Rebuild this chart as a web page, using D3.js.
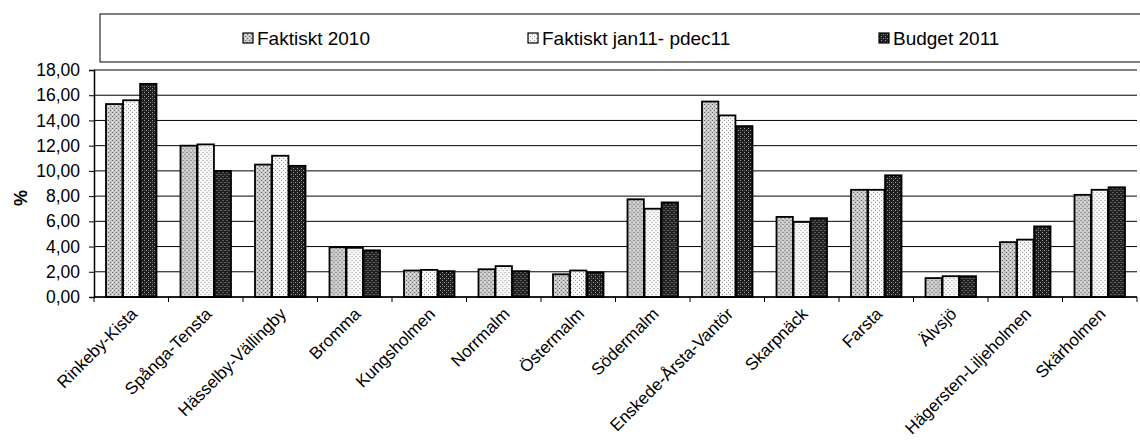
<!DOCTYPE html>
<meta charset="utf-8">
<style>
    body { margin: 0; background: #fff; }
    text { font-family: "Liberation Sans", Arial, sans-serif; fill: #000; }
    .grid line { stroke: #000; stroke-width: 1; }
    .axis path, .axis line { stroke: #000; }
    .bar { stroke: #000; stroke-width: 1.8; }
</style>
<svg width="1140" height="444"></svg>
<script src="https://cdn.jsdelivr.net/npm/d3@7/dist/d3.min.js"></script>
<script>
    var categories = ["Rinkeby-Kista", "Spånga-Tensta", "Hässelby-Vällingby", "Bromma", "Kungsholmen",
        "Norrmalm", "Östermalm", "Södermalm", "Enskede-Årsta-Vantör", "Skarpnäck", "Farsta",
        "Älvsjö", "Hägersten-Liljeholmen", "Skärholmen"];

    var seriesNames = ["Faktiskt 2010", "Faktiskt jan11- pdec11", "Budget 2011"];

    var faktiskt2010 = [15.3, 12.0, 10.5, 3.95, 2.1, 2.2, 1.8, 7.75, 15.5, 6.35, 8.5, 1.5, 4.35, 8.1];
    var faktisktJan11 = [15.6, 12.1, 11.2, 3.9, 2.15, 2.45, 2.1, 7.0, 14.4, 5.95, 8.5, 1.65, 4.55, 8.5];
    var budget2011 = [16.9, 10.0, 10.4, 3.7, 2.05, 2.05, 1.95, 7.5, 13.55, 6.25, 9.65, 1.65, 5.6, 8.7];

    var yTicks = [0, 2, 4, 6, 8, 10, 12, 14, 16, 18];

    var series = [faktiskt2010, faktisktJan11, budget2011];

    var svg = d3.select("svg"),
        margin = { top: 70, right: 3, bottom: 147, left: 94 },
        width = +svg.attr("width") - margin.left - margin.right,
        height = +svg.attr("height") - margin.top - margin.bottom;

    // stippled fills, imitating the printed patterns
    var defs = svg.append("defs");
    var patterns = [
        { id: "p0", bg: "#c8c8c8", dot: "#6a6a6a", dot2: "#f2f2f2" },
        { id: "p1", bg: "#f7f7f7", dot: "#9a9a9a", dot2: "#ffffff" },
        { id: "p2", bg: "#1e1e1e", dot: "#9a9a9a", dot2: "#505050" }
    ];
    patterns.forEach(function (p) {
        var pat = defs.append("pattern")
            .attr("id", p.id)
            .attr("patternUnits", "userSpaceOnUse")
            .attr("width", 4).attr("height", 4);
        pat.append("rect").attr("width", 4).attr("height", 4).attr("fill", p.bg);
        pat.append("rect").attr("x", 0).attr("y", 0).attr("width", 1).attr("height", 1).attr("fill", p.dot);
        pat.append("rect").attr("x", 2).attr("y", 2).attr("width", 1).attr("height", 1).attr("fill", p.dot);
        pat.append("rect").attr("x", 2).attr("y", 0).attr("width", 1).attr("height", 1).attr("fill", p.dot2);
    });

    var x0 = d3.scaleBand().domain(categories).range([0, width]).paddingInner(0).paddingOuter(0);
    var x1 = d3.scaleBand().domain(d3.range(series.length))
        .range([12, x0.bandwidth() - 12]).paddingInner(0.04);
    var y = d3.scaleLinear().domain([0, 18]).range([height, 0]);

    var g = svg.append("g")
        .attr("transform", "translate(" + margin.left + "," + margin.top + ")");

    // gridlines
    g.append("g")
        .attr("class", "grid")
        .selectAll("line")
        .data(yTicks)
        .enter().append("line")
        .attr("x1", 0).attr("x2", width)
        .attr("y1", function (d) { return y(d); })
        .attr("y2", function (d) { return y(d); });

    // bars
    var groups = g.selectAll(".group")
        .data(categories)
        .enter().append("g")
        .attr("class", "group")
        .attr("transform", function (d) { return "translate(" + x0(d) + ",0)"; });

    groups.selectAll("rect")
        .data(function (d, i) { return series.map(function (s, k) { return { k: k, v: s[i] }; }); })
        .enter().append("rect")
        .attr("class", "bar")
        .attr("x", function (d) { return x1(d.k); })
        .attr("width", x1.bandwidth())
        .attr("y", function (d) { return y(d.v); })
        .attr("height", function (d) { return height - y(d.v); })
        .attr("fill", function (d) { return "url(#p" + d.k + ")"; });

    // y axis
    var yAxis = d3.axisLeft(y).tickValues(yTicks).tickSize(5).tickPadding(9)
        .tickFormat(function (d) { return d3.format(".2f")(d).replace(".", ","); });
    var gy = g.append("g").attr("class", "axis").call(yAxis);
    gy.selectAll("text").style("font-size", "17.5px");
    gy.select(".domain").attr("stroke-width", 1.5);

    // x axis with ticks at group boundaries
    var gx = g.append("g").attr("class", "axis")
        .attr("transform", "translate(0," + height + ")");
    gx.append("line").attr("x1", 0).attr("x2", width).attr("stroke", "#000").attr("stroke-width", 1.5);
    gx.selectAll(".tk")
        .data(d3.range(categories.length + 1))
        .enter().append("line")
        .attr("x1", function (i) { return i * x0.step(); })
        .attr("x2", function (i) { return i * x0.step(); })
        .attr("y1", 0).attr("y2", 5)
        .attr("stroke", "#000");
    gx.selectAll(".lbl")
        .data(categories)
        .enter().append("text")
        .attr("text-anchor", "end")
        .style("font-size", "17px")
        .attr("transform", function (d) {
            return "translate(" + (x0(d) + x0.bandwidth() / 2 + 7) + ",18) rotate(-45)";
        })
        .text(function (d) { return d; });

    // y label
    svg.append("text")
        .attr("transform", "translate(27,198) rotate(-90)")
        .attr("text-anchor", "middle")
        .style("font-size", "18px")
        .style("font-weight", "bold")
        .text("%");

    // legend
    var legend = svg.append("g");
    legend.append("rect")
        .attr("x", 100).attr("y", 14)
        .attr("width", 1045).attr("height", 48)
        .attr("fill", "none").attr("stroke", "#000").attr("stroke-width", 1);

    var legendX = [243, 528, 879];
    var items = legend.selectAll(".item")
        .data(seriesNames)
        .enter().append("g")
        .attr("transform", function (d, i) { return "translate(" + legendX[i] + ",38)"; });
    items.append("rect")
        .attr("x", 0).attr("y", -5)
        .attr("width", 10).attr("height", 10)
        .attr("stroke", "#000").attr("stroke-width", 1.2)
        .attr("fill", function (d, i) { return "url(#p" + i + ")"; });
    items.append("text")
        .attr("x", 14).attr("dy", "0.35em")
        .style("font-size", "19px")
        .text(function (d) { return d; });
</script>
